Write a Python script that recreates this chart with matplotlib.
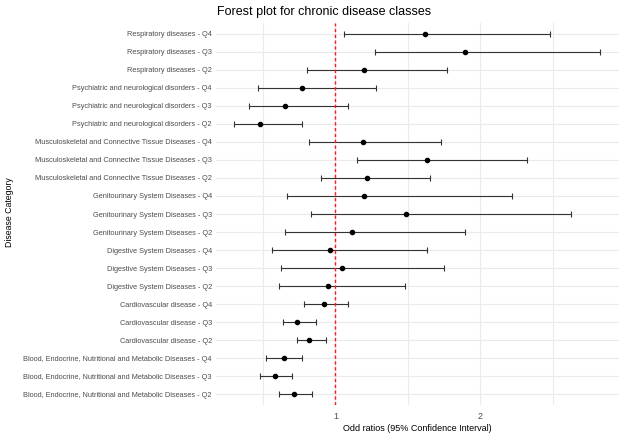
import matplotlib.pyplot as plt

plt.rcParams['font.family'] = ['Liberation Sans', 'DejaVu Sans']

# categorias de abajo hacia arriba
categorias = [
    "Blood, Endocrine, Nutritional and Metabolic Diseases - Q2",
    "Blood, Endocrine, Nutritional and Metabolic Diseases - Q3",
    "Blood, Endocrine, Nutritional and Metabolic Diseases - Q4",
    "Cardiovascular disease - Q2",
    "Cardiovascular disease - Q3",
    "Cardiovascular disease - Q4",
    "Digestive System Diseases - Q2",
    "Digestive System Diseases - Q3",
    "Digestive System Diseases - Q4",
    "Genitourinary System Diseases - Q2",
    "Genitourinary System Diseases - Q3",
    "Genitourinary System Diseases - Q4",
    "Musculoskeletal and Connective Tissue Diseases - Q2",
    "Musculoskeletal and Connective Tissue Diseases - Q3",
    "Musculoskeletal and Connective Tissue Diseases - Q4",
    "Psychiatric and neurological disorders - Q2",
    "Psychiatric and neurological disorders - Q3",
    "Psychiatric and neurological disorders - Q4",
    "Respiratory diseases - Q2",
    "Respiratory diseases - Q3",
    "Respiratory diseases - Q4",
]
odds = [0.715, 0.584, 0.646, 0.821, 0.734, 0.924, 0.952, 1.046, 0.963,
        1.113, 1.486, 1.200, 1.221, 1.630, 1.191, 0.483, 0.655, 0.772,
        1.198, 1.892, 1.619]
inferior = [0.612, 0.483, 0.524, 0.734, 0.637, 0.782, 0.612, 0.626, 0.563,
            0.655, 0.834, 0.667, 0.903, 1.152, 0.821, 0.303, 0.405, 0.467,
            0.803, 1.274, 1.062]
superior = [0.837, 0.703, 0.772, 0.936, 0.867, 1.085, 1.483, 1.752, 1.630,
            1.894, 2.628, 2.221, 1.655, 2.320, 1.731, 0.772, 1.085, 1.283,
            1.770, 2.828, 2.481]

fig = plt.figure(figsize=(6.24, 4.37), dpi=100)
ax = fig.add_axes([216 / 624, 1 - 405 / 437, 403 / 624, 382 / 437])

pos = list(range(1, len(categorias) + 1))
errores = [[o - i for o, i in zip(odds, inferior)],
           [s - o for o, s in zip(odds, superior)]]
ax.errorbar(odds, pos, xerr=errores, fmt='o', color='black', ecolor='#333333',
            elinewidth=0.8, capsize=2, capthick=0.8, markersize=3, zorder=3)
# linea de referencia en OR = 1
ax.axvline(1, color='#ff1a1a', linestyle=(0, (2.4, 1.8)), linewidth=1.0, zorder=4)

ax.set_xlim(0.177, 2.956)
ax.set_ylim(0.4, len(categorias) + 0.6)
ax.set_xticks([1, 2])
ax.set_xticks([0.5, 1.5, 2.5], minor=True)
ax.set_yticks(pos)
ax.set_yticklabels(categorias)
ax.tick_params(axis='both', which='both', length=0, labelsize=5.35,
               labelcolor='#4d4d4d', pad=3)
ax.tick_params(axis='x', which='major', labelsize=6.5, pad=5)
ax.grid(True, which='major', color='#ebebeb', linewidth=0.8)
ax.grid(True, which='minor', axis='x', color='#ebebeb', linewidth=0.8)
ax.set_axisbelow(True)
for s in ax.spines.values():
    s.set_visible(False)

ax.set_xlabel('Odd ratios (95% Confidence Interval)', fontsize=6.5, labelpad=2)
fig.text(10 / 624, 1 - 212 / 437, 'Disease Category', rotation=90,
         fontsize=6.3, ha='center', va='center')
fig.text(324 / 624, 1 - 12 / 437, 'Forest plot for chronic disease classes',
         fontsize=9, ha='center', va='center')

plt.savefig('out.png', dpi=100)
